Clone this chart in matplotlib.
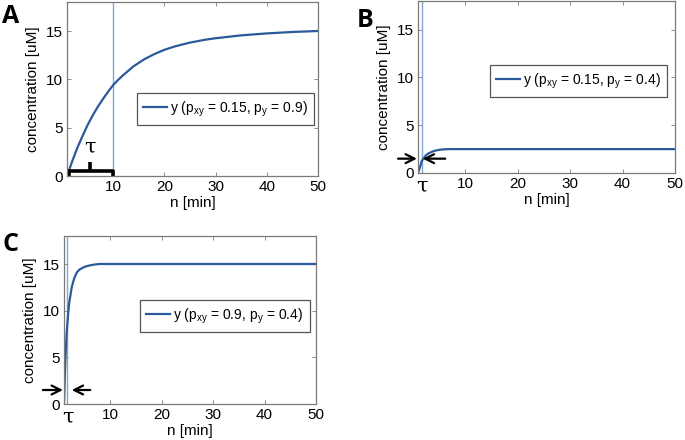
import matplotlib
matplotlib.use("Agg")
import matplotlib.pyplot as plt

plt.rcParams['font.family'] = ['Liberation Sans', 'DejaVu Sans']
plt.rcParams['mathtext.fontset'] = 'custom'
plt.rcParams['mathtext.rm'] = 'Liberation Sans'
plt.rcParams['mathtext.it'] = 'Liberation Sans:italic'

# ---- data ----
n_a = [1, 2, 3, 4, 5, 6, 7, 8, 9, 10, 11, 12, 14, 16, 18, 20, 22, 25, 28, 30,
       35, 40, 45, 50]
y_a = [0, 1.5, 2.9, 4.1, 5.25, 6.25, 7.15, 7.95, 8.7, 9.4, 9.95, 10.45, 11.35,
       12.05, 12.6, 13.05, 13.4, 13.8, 14.1, 14.25, 14.55, 14.75, 14.9, 15.0]
n_b = [1, 1.5, 1.67, 2, 2.5, 3, 4, 5, 6, 7, 50]
y_b = [0, 0.8, 1.2, 1.5, 1.85, 2.05, 2.3, 2.42, 2.48, 2.5, 2.5]
n_c = [1, 1.25, 1.5, 1.83, 2, 2.5, 3, 3.5, 4, 5, 6, 7, 8, 50]
y_c = [0, 4.5, 7.5, 9.8, 10.8, 12.5, 13.5, 14.1, 14.4, 14.7, 14.85, 14.95, 15.0, 15.0]
tau_a, tau_b, tau_c = 10, 1.67, 1.67
labels = [r'y (p$_{\mathrm{xy}}$ = 0.15, p$_{\mathrm{y}}$ = 0.9)',
          r'y (p$_{\mathrm{xy}}$ = 0.15, p$_{\mathrm{y}}$ = 0.4)',
          r'y (p$_{\mathrm{xy}}$ = 0.9, p$_{\mathrm{y}}$ = 0.4)']
xticks = [10, 20, 30, 40, 50]
yticks = [0, 5, 10, 15]

W, H = 685, 440
fig = plt.figure(figsize=(W / 100, H / 100), dpi=100)

def px_axes(l, t, r, b):
    return fig.add_axes([l / W, 1 - b / H, (r - l) / W, (b - t) / H])

curve_col = '#2b5a9b'
vline_col = '#7fa8d8'
edge_col = '#7a7a7a'

def style(ax):
    ax.set_xlim(1, 50)
    ax.set_ylim(0, 18)
    ax.set_xticks(xticks)
    ax.set_yticks(yticks)
    ax.tick_params(direction='in', length=3, width=0.6, color=edge_col,
                   top=True, right=True, labelsize=11, pad=3)
    for s in ax.spines.values():
        s.set_color(edge_col)
        s.set_linewidth(0.9)
    ax.set_xlabel('n [min]', fontsize=11, labelpad=1)
    ax.set_ylabel('concentration [uM]', fontsize=11, labelpad=4)

axA = px_axes(67, 2, 318, 176)
axB = px_axes(418, 1, 675, 173)
axC = px_axes(64, 236, 316, 404)

panels = [(axA, n_a, y_a, tau_a, labels[0], (137, 93)),
          (axB, n_b, y_b, tau_b, labels[1], (490, 65)),
          (axC, n_c, y_c, tau_c, labels[2], (140, 300))]
for ax, n, y, tau, lab, (lx, ly) in panels:
    style(ax)
    ax.axvline(tau, color=vline_col, lw=1.0)
    ax.plot(n, y, color=curve_col, lw=1.6, label=lab)
    leg = ax.legend(loc='upper left', bbox_to_anchor=(lx / W, 1 - ly / H),
                    bbox_transform=fig.transFigure, borderaxespad=0,
                    fancybox=False, framealpha=1, edgecolor='#555555',
                    fontsize=10, handlelength=1.7, handletextpad=0.25,
                    borderpad=0.45)
    leg.get_frame().set_linewidth(0.9)

# panel letters
for txt, x, y in [('A', 2, 4), ('B', 357, 8), ('C', 2, 232)]:
    fig.text(x / W, 1 - y / H, txt, fontsize=18, fontweight='bold',
             ha='left', va='top', family=['Open Sans', 'DejaVu Sans'])

tau_font = dict(family=['DejaVu Serif'], fontsize=15)

# A: bracket
kw = dict(color='black', lw=2.6, clip_on=False, solid_capstyle='butt')
axA.plot([1.3, 1.3, 10, 10], [0, 0.55, 0.55, 0], **kw)
axA.plot([5.5, 5.5], [0.55, 1.5], **kw)
axA.text(5.5, 2.0, 'τ', ha='center', va='bottom', **tau_font)

# B and C: arrows
arrow_kw = dict(arrowstyle='->', color='black', lw=1.6, mutation_scale=16,
                shrinkA=0, shrinkB=0)
for ax, x0, x1, x2, x3 in [(axB, -2.8, 0.8, 6.2, 1.9), (axC, -3.1, 0.8, 6.1, 2.5)]:
    ax.annotate('', xy=(x1, 1.5), xytext=(x0, 1.5), arrowprops=arrow_kw,
                annotation_clip=False)
    ax.annotate('', xy=(x3, 1.5), xytext=(x2, 1.5), arrowprops=arrow_kw,
                annotation_clip=False)

axB.text(1.7, -0.02, 'τ', transform=axB.get_xaxis_transform(), ha='center',
         va='top', **tau_font)
axC.text(1.8, -0.02, 'τ', transform=axC.get_xaxis_transform(), ha='center',
         va='top', **tau_font)

fig.savefig('out.png', dpi=100)
